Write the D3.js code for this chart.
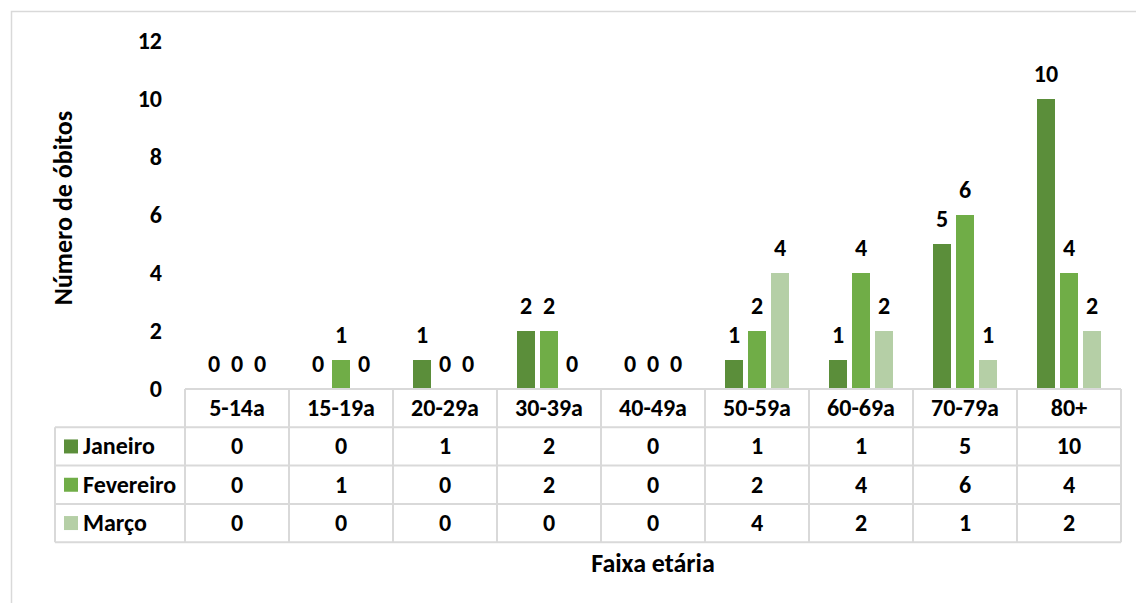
<!DOCTYPE html>
<html>
<head>
<meta charset="utf-8">
<script src="https://cdn.jsdelivr.net/npm/d3@7"></script>
<style>
  body { margin: 0; background: #fff; }
  svg text { font-family: Carlito, Calibri, Lato, sans-serif; font-weight: bold; fill: #000; }
</style>
</head>
<body>
<svg id="chart"></svg>
<script>
const categories = ["5-14a", "15-19a", "20-29a", "30-39a", "40-49a", "50-59a", "60-69a", "70-79a", "80+"];
const seriesNames = ["Janeiro", "Fevereiro", "Março"];
const janeiro = [0, 0, 1, 2, 0, 1, 1, 5, 10];
const fevereiro = [0, 1, 0, 2, 0, 2, 4, 6, 4];
const marco = [0, 0, 0, 0, 0, 4, 2, 1, 2];
const yTicks = [0, 2, 4, 6, 8, 10, 12];
const colors = ["#5b8e3a", "#70ad47", "#b5cfa6"];

const seriesValues = [janeiro, fevereiro, marco];
const width = 1136, height = 603;
const plot = { left: 185, right: 1121, top: 41, bottom: 389 };
const rowH = 38.3;
const labelColLeft = 55;
const fs = 24;
const titleFs = 26;
const half = 8; // half of digit height, to centre text on a y

const svg = d3.select("#chart").attr("width", width).attr("height", height);

// outer chart border
svg.append("rect")
    .attr("x", 11.5).attr("y", 11.5)
    .attr("width", width + 20).attr("height", height + 20)
    .attr("fill", "none").attr("stroke", "#d9d9d9").attr("stroke-width", 1.5);

const x = d3.scaleBand().domain(categories).range([plot.left, plot.right]);
const xInner = d3.scaleBand().domain(d3.range(3))
    .range([20, x.bandwidth() - 20]).paddingInner(5 / 23);
const y = d3.scaleLinear().domain([0, 12]).range([plot.bottom, plot.top]);

// y tick labels
svg.append("g").selectAll("text")
    .data(yTicks).enter().append("text")
    .attr("x", 162).attr("y", d => y(d) + half)
    .attr("text-anchor", "end").attr("font-size", fs)
    .text(d => d);

// bars
const groups = svg.selectAll(".cat")
    .data(categories).enter().append("g")
    .attr("class", "cat")
    .attr("transform", d => `translate(${x(d)},0)`);

groups.each(function(c, ci) {
    const g = d3.select(this);
    seriesValues.forEach((vals, si) => {
        const v = vals[ci];
        g.append("rect")
            .attr("x", xInner(si)).attr("width", xInner.bandwidth())
            .attr("y", y(v)).attr("height", y(0) - y(v))
            .attr("fill", colors[si]);
        g.append("text")
            .attr("x", xInner(si) + xInner.bandwidth() / 2)
            .attr("y", y(v) - 25 + half)
            .attr("text-anchor", "middle").attr("font-size", fs)
            .text(v);
    });
});

// data table
const grid = "#d9d9d9";
const tbl = svg.append("g");
const rowsTop = plot.bottom;
tbl.append("line").attr("x1", plot.left).attr("x2", plot.right)
    .attr("y1", rowsTop).attr("y2", rowsTop);
for (let r = 1; r <= 4; r++) {
    tbl.append("line").attr("x1", labelColLeft).attr("x2", plot.right)
        .attr("y1", rowsTop + r * rowH).attr("y2", rowsTop + r * rowH);
}
categories.concat([null]).forEach((c, i) => {
    const xx = plot.left + i * x.bandwidth();
    tbl.append("line").attr("x1", xx).attr("x2", xx)
        .attr("y1", rowsTop).attr("y2", rowsTop + 4 * rowH);
});
tbl.append("line").attr("x1", labelColLeft).attr("x2", labelColLeft)
    .attr("y1", rowsTop + rowH).attr("y2", rowsTop + 4 * rowH);
tbl.selectAll("line").attr("stroke", grid).attr("stroke-width", 2);

// header labels
tbl.selectAll(".hdr").data(categories).enter().append("text")
    .attr("x", d => x(d) + x.bandwidth() / 2)
    .attr("y", rowsTop + rowH / 2 + half)
    .attr("text-anchor", "middle").attr("font-size", fs)
    .text(d => d);

// rows
seriesNames.forEach((name, si) => {
    const cy = rowsTop + (si + 1.5) * rowH;
    tbl.append("rect").attr("x", 64).attr("y", cy - 7)
        .attr("width", 14).attr("height", 14).attr("fill", colors[si]);
    tbl.append("text").attr("x", 83).attr("y", cy + half)
        .attr("font-size", fs).text(name);
    tbl.selectAll(".v" + si).data(seriesValues[si]).enter().append("text")
        .attr("x", (d, i) => x(categories[i]) + x.bandwidth() / 2)
        .attr("y", cy + half)
        .attr("text-anchor", "middle").attr("font-size", fs)
        .text(d => d);
});

// axis titles
svg.append("text")
    .attr("x", 653).attr("y", 572)
    .attr("text-anchor", "middle").attr("font-size", titleFs)
    .text("Faixa etária");
svg.append("text")
    .attr("transform", "translate(72,208) rotate(-90)")
    .attr("text-anchor", "middle").attr("font-size", titleFs)
    .text("Número de óbitos");
</script>
</body>
</html>
